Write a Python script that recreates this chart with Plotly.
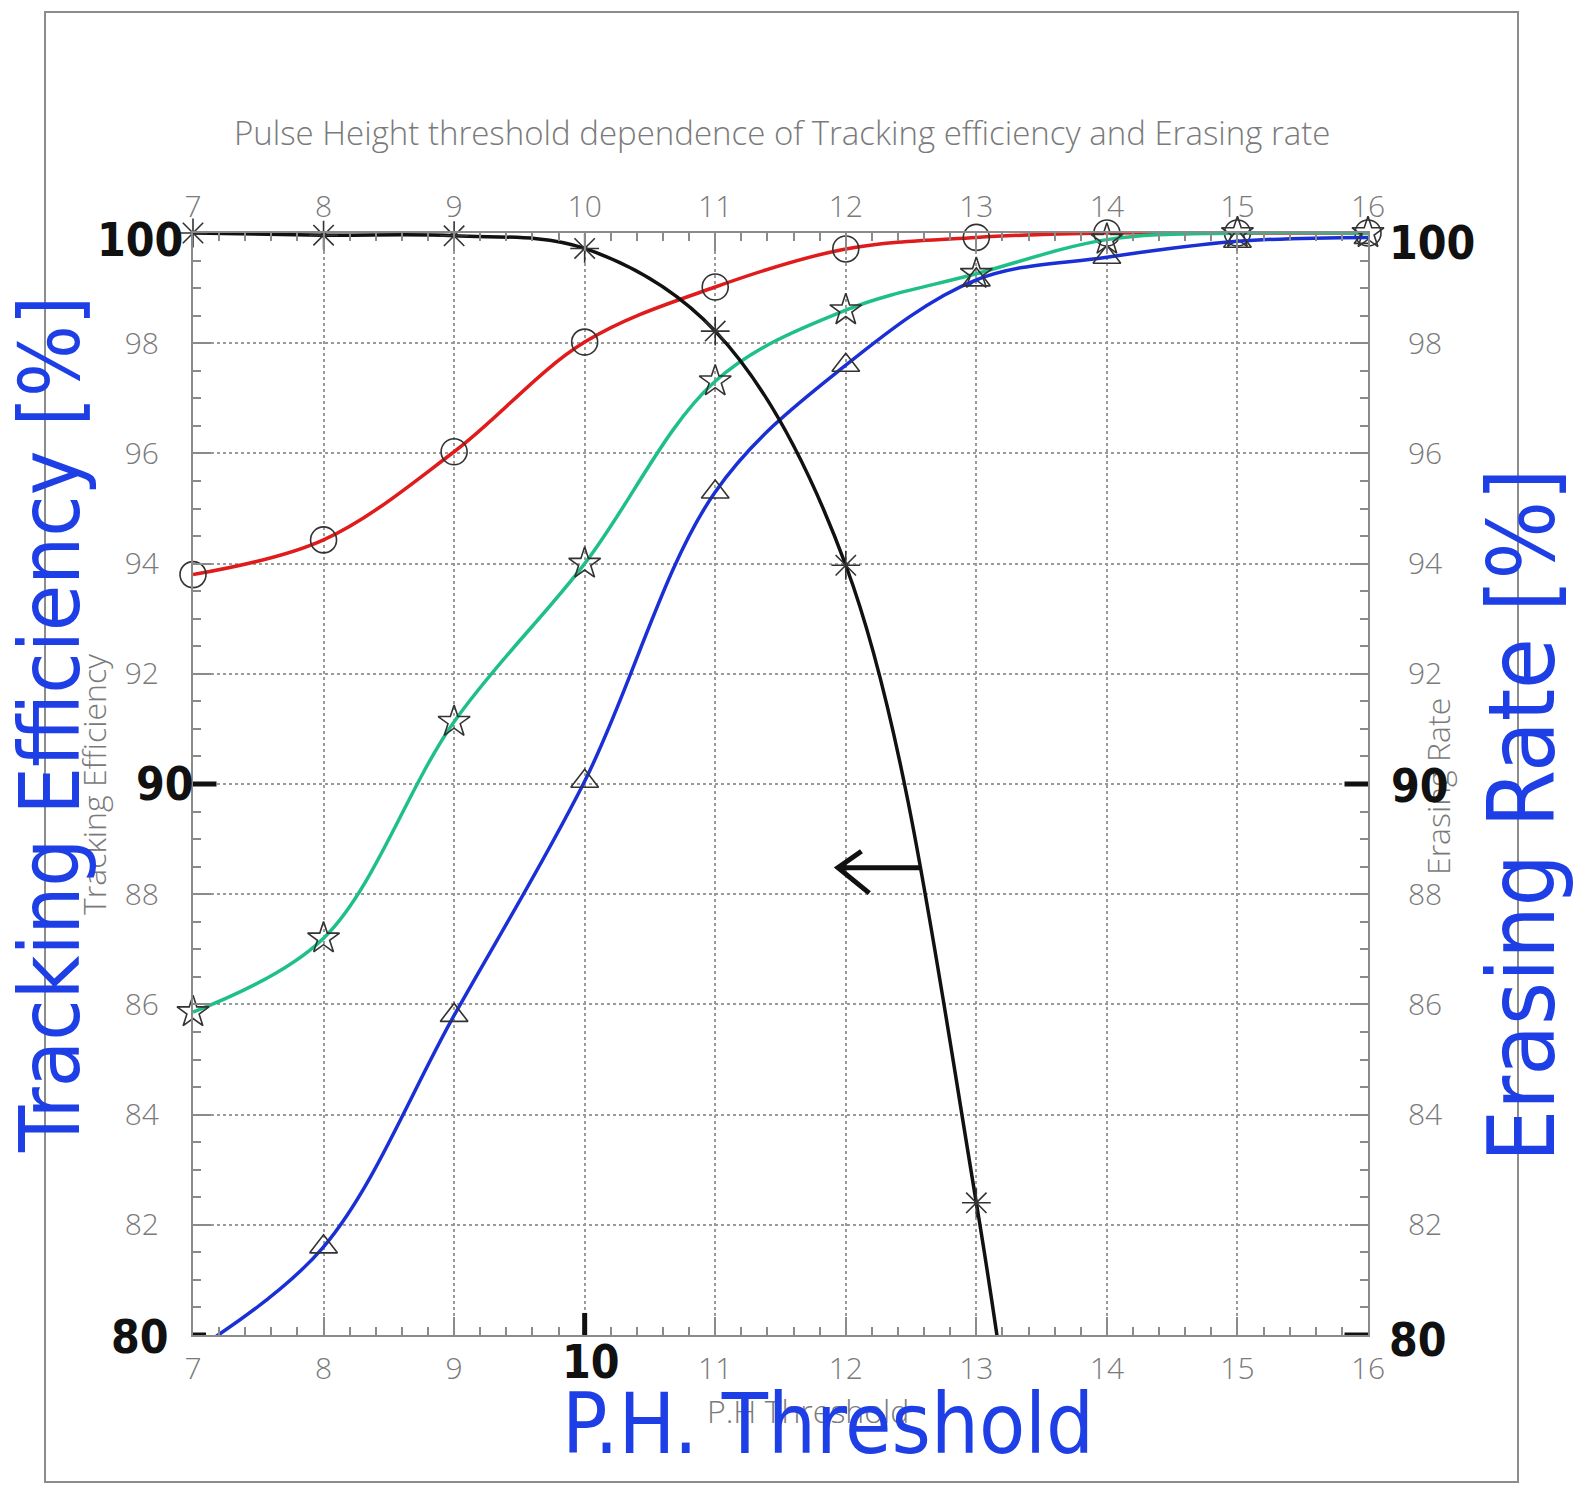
import plotly.graph_objects as go

# Pulse-height threshold scan
threshold = [7, 8, 9, 10, 11, 12, 13, 14, 15, 16]

# Tracking efficiency curves [%]
eff_circle = [93.8, 94.43, 96.03, 98.02, 99.02, 99.71, 99.92, 100.0, 100.0, 100.0]
eff_star = [85.86, 87.2, 91.13, 94.0, 97.31, 98.6, 99.26, 99.88, 100.0, 100.0]
eff_triangle = [79.7, 81.6, 85.8, 90.05, 95.3, 97.6, 99.15, 99.56, 99.85, 99.92]

# Erasing rate [%]
erase_x = [7, 8, 9, 10, 11, 12, 13, 14]
erase_rate = [100.0, 99.96, 99.95, 99.72, 98.22, 93.97, 82.4, 64.0]

x_ticks = list(range(7, 17))
x_top_labels = [str(v) for v in x_ticks]
x_bottom_labels = [("" if v == 10 else str(v)) for v in x_ticks]
y_ticks = list(range(80, 101, 2))
y_labels = [("" if v in (80, 90, 100) else str(v)) for v in y_ticks]

RED = "#e01b1b"
GREEN = "#1fc088"
BLUE = "#1a30d6"
BLACK = "#111111"
MARK = "#333333"
PEN = "#1f3fe6"
GRAY_TXT = "#7a7a7a"
AX = "#8a8a8a"
PRINT_FONT = "Open Sans"

fig = go.Figure()


def add_curve(xs, ys, color, symbol, size, clip):
    fig.add_trace(go.Scatter(
        x=xs, y=ys, mode="lines", line=dict(color=color, width=3.5, shape="spline", smoothing=1.0),
        cliponaxis=clip, showlegend=False, hoverinfo="skip"))
    mx = [a for a, b in zip(xs, ys) if b >= 79.5]
    my = [b for b in ys if b >= 79.5]
    fig.add_trace(go.Scatter(
        x=mx, y=my, mode="markers",
        marker=dict(symbol=symbol, size=size, color=MARK, line=dict(width=1.6, color=MARK)),
        cliponaxis=True if symbol == "triangle-up-open" else False,
        showlegend=False, hoverinfo="skip"))


add_curve(threshold, eff_circle, RED, "circle-open", 26, False)
add_curve(threshold, eff_star, GREEN, "star-open", 24, False)
add_curve(threshold, eff_triangle, BLUE, "triangle-up-open", 24, True)
add_curve(erase_x, erase_rate, BLACK, "asterisk-open", 24, True)

# invisible trace so the top / right axes are drawn
fig.add_trace(go.Scatter(x=[7, 16], y=[80, 100], xaxis="x2", yaxis="y2", mode="markers",
                         marker=dict(opacity=0), showlegend=False, hoverinfo="skip"))

tick_font = dict(family=PRINT_FONT, size=30, color=GRAY_TXT, weight=300)
common_x = dict(range=[7, 16], tickmode="array", tickvals=x_ticks, ticks="inside", ticklen=18,
                tickwidth=1.5, tickcolor=AX, showline=True, linecolor=AX, linewidth=2,
                minor=dict(dtick=0.2, ticks="inside", ticklen=8, tickcolor=AX, tickwidth=1.5),
                tickfont=tick_font, zeroline=False)
common_y = dict(range=[80, 100], tickmode="array", tickvals=y_ticks, ticktext=y_labels,
                ticks="inside", ticklen=18, tickwidth=1.5, tickcolor=AX, showline=True,
                linecolor=AX, linewidth=2,
                minor=dict(dtick=0.5, ticks="inside", ticklen=8, tickcolor=AX, tickwidth=1.5),
                tickfont=tick_font, zeroline=False)

fig.update_layout(
    width=1575, height=1490,
    margin=dict(l=193, r=207, t=233, b=155),
    paper_bgcolor="white", plot_bgcolor="white",
    xaxis=dict(**common_x, ticktext=x_bottom_labels, showgrid=True, gridcolor="#9a9a9a",
               griddash="dot", gridwidth=1.5, ticklabelstandoff=6),
    xaxis2=dict(**common_x, ticktext=x_top_labels, overlaying="x", side="top", showgrid=False,
                matches="x", ticklabelstandoff=2),
    yaxis=dict(**common_y, showgrid=True, gridcolor="#9a9a9a", griddash="dot", gridwidth=1.5,
               ticklabelstandoff=26),
    yaxis2=dict(**common_y, overlaying="y", side="right", showgrid=False, matches="y",
                ticklabelstandoff=32),
)


def px_x(p):
    return (p - 193) / 1175


def px_y(p):
    return (1335 - p) / 1102


ann = []
# printed title and axis titles
ann.append(dict(text="Pulse Height threshold dependence of Tracking efficiency and Erasing rate",
                x=px_x(782), y=px_y(133), font=dict(family=PRINT_FONT, size=33, color=GRAY_TXT, weight=300)))
ann.append(dict(text="Tracking Efficiency", x=px_x(93), y=px_y(785), textangle=-90,
                font=dict(family=PRINT_FONT, size=32, color=GRAY_TXT, weight=300)))
ann.append(dict(text="Erasing Rate", x=px_x(1437), y=px_y(787), textangle=-90,
                font=dict(family=PRINT_FONT, size=32, color=GRAY_TXT, weight=300)))
ann.append(dict(text="P.H Threshold", x=px_x(808), y=px_y(1410),
                font=dict(family=PRINT_FONT, size=32, color=GRAY_TXT, weight=300)))

# pen annotations
hand = "Liberation Sans Narrow, DejaVu Sans Condensed, Arial Narrow, sans-serif"
ann.append(dict(text="Tracking Efficiency [%]", x=px_x(50), y=px_y(725), textangle=-90,
                font=dict(family=hand, size=84, color=PEN)))
ann.append(dict(text="Erasing Rate [%]", x=px_x(1522), y=px_y(815), textangle=-90,
                font=dict(family=hand, size=92, color=PEN)))
ann.append(dict(text="P.H. Threshold", x=px_x(828), y=px_y(1424),
                font=dict(family=hand, size=84, color=PEN)))
for txt, xp, yp in [("100", 140, 240), ("90", 165, 784), ("80", 140, 1337),
                    ("100", 1432, 243), ("90", 1420, 786), ("80", 1418, 1340), ("10", 591, 1362)]:
    ann.append(dict(text="<b>" + txt + "</b>", x=px_x(xp), y=px_y(yp),
                    font=dict(family=hand, size=46, color=BLACK)))

for a in ann:
    a.update(xref="paper", yref="paper", showarrow=False, xanchor="center", yanchor="middle")
fig.update_layout(annotations=ann)

shapes = [
    # sheet border
    dict(type="rect", xref="paper", yref="paper", x0=px_x(45), x1=px_x(1518), y0=px_y(1482),
         y1=px_y(12), line=dict(color="#8c8c8c", width=2)),
    # pen tick marks
    dict(type="line", xref="x", yref="y", x0=7.0, x1=7.18, y0=90, y1=90, line=dict(color=BLACK, width=5)),
    dict(type="line", xref="x", yref="y", x0=15.82, x1=16.0, y0=90, y1=90, line=dict(color=BLACK, width=5)),
    dict(type="line", xref="x", yref="y", x0=15.82, x1=16.0, y0=80, y1=80, line=dict(color=BLACK, width=5)),
    dict(type="line", xref="x", yref="y", x0=7.0, x1=7.1, y0=80, y1=80, line=dict(color=BLACK, width=5)),
    dict(type="line", xref="x", yref="y", x0=10, x1=10, y0=80, y1=80.4, line=dict(color=BLACK, width=5)),
    # pen arrow pointing to the left-hand scale
    dict(type="path", xref="x", yref="y", path="M 12.57 88.48 L 11.94 88.48 M 12.12 88.78 L 11.94 88.48 L 12.18 88.02",
         line=dict(color=BLACK, width=5)),
]
fig.update_layout(shapes=shapes)

fig.write_html("out.html")
